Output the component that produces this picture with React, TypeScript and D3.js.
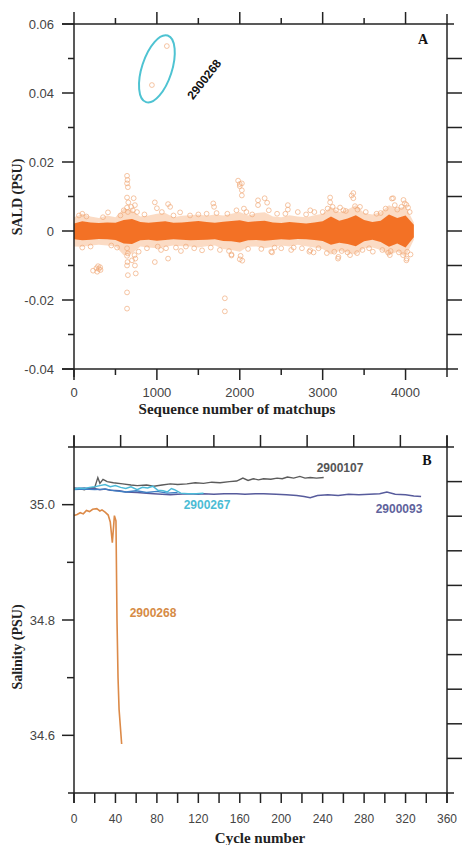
import React from "react";
import * as d3 from "d3";

// ---------- Panel A data ----------
const bandSeq = [0,100,200,300,400,500,600,700,800,900,1000,1100,1200,1300,1400,1500,1600,1700,1800,1900,2000,2100,2200,2300,2400,2500,2600,2700,2800,2900,3000,3100,3200,3300,3400,3500,3600,3700,3800,3900,4000,4100];
const coreUpper = [2.2,2.8,2.5,2.3,2.5,2.4,3.2,3.5,2.6,2.4,2.6,2.8,2.4,2.5,2.7,2.9,2.6,2.4,2.7,2.9,3.1,2.6,2.8,3.0,2.5,2.3,2.6,2.4,2.2,2.5,2.8,4.2,3.0,3.6,4.6,3.2,2.6,3.0,4.8,3.8,4.5,1.8];
const coreLower = [-2.4,-2.7,-2.5,-2.3,-2.4,-2.6,-3.6,-3.8,-2.7,-2.5,-2.8,-2.6,-2.4,-2.5,-2.7,-2.6,-2.5,-2.4,-2.9,-3.0,-3.3,-2.7,-2.6,-2.8,-2.6,-2.4,-2.5,-2.3,-2.4,-2.6,-2.9,-4.0,-3.4,-3.8,-4.4,-3.0,-2.5,-3.2,-4.6,-3.6,-4.8,-1.8];
const fringeUpper = [4.0,5.0,4.2,3.8,4.5,4.0,6.5,6.0,4.2,4.5,5.0,5.2,4.0,4.4,4.6,4.8,4.4,4.8,4.5,5.0,5.5,4.5,5.2,5.4,4.2,4.0,4.6,4.2,4.0,4.6,5.0,7.0,5.5,6.2,7.5,5.2,4.8,5.5,7.5,6.5,7.2,2.5];
const fringeLower = [-4.5,-4.6,-4.2,-4.0,-4.2,-4.4,-7.0,-6.5,-4.5,-4.8,-5.0,-4.6,-4.2,-4.4,-4.5,-4.8,-4.4,-4.2,-5.2,-5.5,-6.0,-4.6,-4.5,-5.0,-4.6,-4.2,-4.5,-4.0,-4.4,-4.8,-5.2,-6.8,-5.8,-6.2,-6.8,-5.0,-4.8,-5.5,-7.0,-6.0,-7.5,-2.5];

const outlierSeq = [1120,940,640,645,640,650,640,655,640,650,640,650,640,645,640,650,640,640,720,735,710,730,740,735,745,700,230,270,290,300,315,320,280,410,100,100,60,520,560,975,1000,1010,975,1060,1135,1160,1135,1110,1280,1290,1400,1450,1545,1600,1680,1690,1760,1820,1820,1900,1900,1960,1980,2000,2000,2025,2025,2025,2030,2000,2010,2050,2220,2220,2300,2330,2380,2390,2450,2500,2580,2580,2650,2700,2840,2850,2850,2890,2900,3050,3090,3090,3120,3185,3190,3210,3250,3330,3350,3370,3370,3415,3450,3605,3650,3790,3810,3835,3850,3870,3970,3975,3990,4010,4015,4010,4030,4020,
  150,200,350,450,600,690,760,780,850,880,1050,1200,1230,1350,1500,1650,1720,1850,1870,2080,2100,2150,2260,2350,2420,2550,2620,2750,2800,2950,3000,3060,3140,3160,3230,3280,3300,3390,3420,3480,3520,3560,3700,3720,3760,3820,3900,3920,3950,4050,4060];
const outlierSald = [0.0536,0.0423,0.0160,0.0148,0.0138,0.0127,0.0097,0.0083,0.0068,0.0055,-0.0050,-0.0065,-0.0072,-0.0090,-0.0100,-0.0128,-0.0178,-0.0225,0.0095,0.0075,0.0060,-0.0070,-0.0080,-0.0100,-0.0123,-0.0085,-0.0115,-0.0108,-0.0102,-0.0110,-0.0105,-0.0113,-0.0118,0.0054,0.0050,-0.0048,0.0045,-0.0048,0.0045,0.0083,0.0066,-0.0045,-0.0090,0.0055,0.0078,0.0070,-0.0080,-0.0050,0.0054,-0.0058,0.0045,-0.0050,-0.0056,0.0050,0.0080,0.0070,-0.0055,-0.0195,-0.0233,-0.0068,-0.0071,0.0060,0.0146,0.0136,0.0130,0.0138,0.0118,0.0103,-0.0086,-0.0082,-0.0072,0.0065,0.0089,0.0075,0.0095,0.0082,-0.0060,-0.0062,0.0050,-0.0050,0.0075,0.0062,-0.0048,0.0055,-0.0060,0.0060,-0.0056,-0.0062,0.0055,-0.0064,0.0097,0.0083,0.0070,-0.0080,-0.0075,0.0068,0.0060,-0.0070,0.0103,0.0110,0.0095,-0.0064,0.0070,-0.0060,0.0050,-0.0063,-0.0070,0.0094,0.0095,0.0075,-0.0070,0.0090,0.0080,0.0076,-0.0080,-0.0085,0.0068,-0.0060,
  0.0042,-0.0045,0.0040,-0.0042,0.0060,0.0070,0.0055,-0.0060,0.0048,-0.0050,-0.0055,0.0045,-0.0048,-0.0045,0.0048,-0.0048,0.0052,0.0050,-0.0058,0.0055,-0.0052,0.0048,-0.0052,0.0060,-0.0048,0.0050,-0.0055,-0.0050,0.0048,-0.0050,0.0055,0.0065,-0.0060,0.0060,-0.0058,0.0058,-0.0062,0.0072,0.0062,-0.0055,0.0055,-0.0050,0.0052,-0.0055,0.0065,-0.0058,0.0062,-0.0062,0.0070,0.0055,-0.0068];

const xTicksA = [0,1000,2000,3000,4000];
const yTicksA = [-0.04,-0.02,0,0.02,0.04,0.06];
const yTickLabelsA = ["-0.04","-0.02","0","0.02","0.04","0.06"];

// ---------- Panel B data ----------
const cyc107 = [0,5,10,15,20,23,25,28,32,38,47,55,61,70,77,85,93,100,109,117,125,133,141,150,157,163,168,173,178,183,190,196,201,206,212,218,223,228,234,241];
const sal107 = [35.027,35.028,35.026,35.029,35.030,35.047,35.037,35.044,35.040,35.038,35.036,35.034,35.033,35.034,35.032,35.034,35.036,35.035,35.036,35.038,35.037,35.039,35.038,35.040,35.041,35.046,35.042,35.045,35.043,35.045,35.044,35.046,35.045,35.048,35.046,35.049,35.046,35.047,35.046,35.047];
const cyc093 = [0,5,10,15,20,25,30,35,44,50,61,70,77,85,93,100,110,120,125,135,145,157,165,175,183,195,205,215,222,228,235,245,255,265,275,285,295,302,310,320,328,335];
const sal093 = [35.029,35.028,35.029,35.027,35.028,35.026,35.027,35.025,35.024,35.022,35.021,35.020,35.019,35.018,35.017,35.018,35.019,35.018,35.019,35.018,35.019,35.019,35.018,35.019,35.019,35.018,35.017,35.016,35.014,35.012,35.016,35.017,35.016,35.018,35.017,35.018,35.019,35.022,35.018,35.017,35.015,35.014];
const cycBlue = [0,10,20,30,40,50,60,70,80,90,100];
const salBlue = [35.026,35.027,35.026,35.027,35.024,35.022,35.024,35.021,35.023,35.020,35.021];
const cyc267 = [0,5,10,15,20,25,30,35,40,45,50,55,61,66,71,76,81,86,90,94,97,103,110,118,125];
const sal267 = [35.027,35.029,35.028,35.030,35.031,35.033,35.035,35.031,35.033,35.030,35.028,35.031,35.026,35.030,35.029,35.032,35.025,35.024,35.022,35.028,35.026,35.020,35.019,35.019,35.020];
const cyc268 = [0,3,6,9,12,15,18,22,25,27,30,33,35,37,39,40.5,41.5,42.5,43.5,46];
const sal268 = [34.981,34.983,34.986,34.984,34.990,34.988,34.992,34.993,34.989,34.991,34.987,34.982,34.970,34.934,34.981,34.972,34.80,34.70,34.645,34.585];

const xTicksB = [0,40,80,120,160,200,240,280,320,360];
const yTicksB = [34.6,34.8,35.0];
const yTickLabelsB = ["34.6","34.8","35.0"];

const SANS = "'Liberation Sans', Arial, sans-serif";
const SERIF = "'Liberation Serif', 'Times New Roman', serif";
const AX = "#222";

export default function App() {
  const L = 74, R = 447;
  const xA = d3.scaleLinear().domain([0, 4500]).range([L, R]);
  const yA = d3.scaleLinear().domain([-0.04, 0.06]).range([369, 24]);
  const xB = d3.scaleLinear().domain([0, 360]).range([L, R]);
  const yB = d3.scaleLinear().domain([34.5, 35.1]).range([793, 447]);

  const areaCore = d3.area<number>()
    .x((_, i) => xA(bandSeq[i]))
    .y0((_, i) => yA(coreLower[i] / 1000))
    .y1((_, i) => yA(coreUpper[i] / 1000))
    .curve(d3.curveLinear);
  const areaFringe = d3.area<number>()
    .x((_, i) => xA(bandSeq[i]))
    .y0((_, i) => yA(fringeLower[i] / 1000))
    .y1((_, i) => yA(fringeUpper[i] / 1000))
    .curve(d3.curveLinear);

  const lineB = (cs: number[], ss: number[]) =>
    d3.line<number>().x((_, i) => xB(cs[i])).y((_, i) => yB(ss[i]))(cs) || "";

  const minorXA = d3.range(500, 4500, 1000);
  const minorYA = [-0.03, -0.01, 0.01, 0.03, 0.05];
  const rightYA = d3.range(-0.03, 0.055, 0.01);
  const bottomTicksB = d3.range(0, 361, 20);
  const topTicksB = d3.range(0, 361, 45);
  const minorYB = [34.7, 34.9];
  const rightTicksB = d3.range(1, 10).map(k => 447 + k * 34.6);

  return (
    <svg width={462} height={845} style={{ position: "absolute", left: 0, top: 0, background: "#fff" }}>
      {/* ================= Panel A ================= */}
      <g>
        <path d={areaFringe(bandSeq) || ""} fill="#f6a66c" opacity={0.4} />
        <path d={areaCore(bandSeq) || ""} fill="#f26c1c" opacity={0.95} />
        {outlierSeq.map((s, i) => (
          <circle key={i} cx={xA(s)} cy={yA(outlierSald[i])} r={2.4} fill="none" stroke="#f0a878" strokeWidth={0.9} opacity={0.75} />
        ))}
        <ellipse cx={xA(1000)} cy={yA(0.047)} rx={15} ry={35} fill="none" stroke="#4ec3d2" strokeWidth={2}
          transform={`rotate(18 ${xA(1000)} ${yA(0.047)})`} />
        <text x={205} y={80} transform="rotate(-52 205 80)" textAnchor="middle" dominantBaseline="middle"
          fontFamily={SANS} fontWeight="bold" fontSize={12} fill="#111">2900268</text>
        <text x={423} y={44} fontFamily={SERIF} fontWeight="bold" fontSize={14} fill="#111" textAnchor="middle">A</text>

        <line x1={62} x2={454} y1={24} y2={24} stroke={AX} strokeWidth={1.5} />
        <line x1={62} x2={458} y1={369} y2={369} stroke={AX} strokeWidth={1.5} />
        <line x1={L} x2={L} y1={24} y2={377} stroke={AX} strokeWidth={1.5} />
        <line x1={R} x2={R} y1={14} y2={377} stroke={AX} strokeWidth={1.5} />
        {xTicksA.map(t => (
          <g key={"xa" + t}>
            <line x1={xA(t)} x2={xA(t)} y1={24} y2={12} stroke={AX} strokeWidth={1.5} />
            <line x1={xA(t)} x2={xA(t)} y1={369} y2={380} stroke={AX} strokeWidth={1.5} />
            <text x={xA(t)} y={397} textAnchor="middle" fontFamily={SANS} fontSize={13} fill="#444">{t}</text>
          </g>
        ))}
        {minorXA.map(t => (
          <g key={"mxa" + t}>
            <line x1={xA(t)} x2={xA(t)} y1={24} y2={18} stroke={AX} strokeWidth={1.5} />
            <line x1={xA(t)} x2={xA(t)} y1={369} y2={375} stroke={AX} strokeWidth={1.5} />
          </g>
        ))}
        {yTicksA.map((t, i) => (
          <g key={"ya" + t}>
            <line x1={62} x2={L} y1={yA(t)} y2={yA(t)} stroke={AX} strokeWidth={1.5} />
            <text x={54} y={yA(t)} dy="0.35em" textAnchor="end" fontFamily={SANS} fontSize={13} fill="#444">{yTickLabelsA[i]}</text>
          </g>
        ))}
        {minorYA.map(t => (
          <line key={"mya" + t} x1={68} x2={L} y1={yA(t)} y2={yA(t)} stroke={AX} strokeWidth={1.5} />
        ))}
        {rightYA.map(t => (
          <line key={"rya" + t} x1={R} x2={462} y1={yA(t)} y2={yA(t)} stroke={AX} strokeWidth={1.5} />
        ))}
        <text x={237} y={414} textAnchor="middle" fontFamily={SERIF} fontWeight="bold" fontSize={15} fill="#222">Sequence number of matchups</text>
        <text transform={`translate(19 197) rotate(-90)`} textAnchor="middle" dominantBaseline="middle" fontFamily={SERIF} fontWeight="bold" fontSize={14} fill="#222">SALD (PSU)</text>
      </g>

      {/* ================= Panel B ================= */}
      <g>
        <path d={lineB(cyc107, sal107)} fill="none" stroke="#5c5c5c" strokeWidth={1.4} />
        <path d={lineB(cyc093, sal093)} fill="none" stroke="#575b9c" strokeWidth={1.5} />
        <path d={lineB(cycBlue, salBlue)} fill="none" stroke="#3f7fc4" strokeWidth={1.4} />
        <path d={lineB(cyc267, sal267)} fill="none" stroke="#4cbad8" strokeWidth={1.5} />
        <path d={lineB(cyc268, sal268)} fill="none" stroke="#dc8a48" strokeWidth={1.6} />

        <text x={340} y={472} textAnchor="middle" fontFamily={SANS} fontWeight="bold" fontSize={12} fill="#555">2900107</text>
        <text x={207} y={509} textAnchor="middle" fontFamily={SANS} fontWeight="bold" fontSize={12} fill="#4bbcd4">2900267</text>
        <text x={399} y={513} textAnchor="middle" fontFamily={SANS} fontWeight="bold" fontSize={12} fill="#60629c">2900093</text>
        <text x={153} y={617} textAnchor="middle" fontFamily={SANS} fontWeight="bold" fontSize={12} fill="#d68b45">2900268</text>
        <text x={427} y={465} textAnchor="middle" fontFamily={SERIF} fontWeight="bold" fontSize={14} fill="#111">B</text>

        <line x1={68} x2={454} y1={447} y2={447} stroke={AX} strokeWidth={1.5} />
        <line x1={68} x2={454} y1={793} y2={793} stroke={AX} strokeWidth={1.5} />
        <line x1={L} x2={L} y1={436} y2={803} stroke={AX} strokeWidth={1.5} />
        <line x1={R} x2={R} y1={436} y2={803} stroke={AX} strokeWidth={1.5} />
        {topTicksB.map(t => (
          <line key={"tb" + t} x1={xB(t)} x2={xB(t)} y1={447} y2={435} stroke={AX} strokeWidth={1.5} />
        ))}
        {bottomTicksB.map(t => (
          <line key={"bb" + t} x1={xB(t)} x2={xB(t)} y1={793} y2={803} stroke={AX} strokeWidth={1.5} />
        ))}
        {xTicksB.map(t => (
          <text key={"xb" + t} x={xB(t)} y={823} textAnchor="middle" fontFamily={SANS} fontSize={12} fill="#444">{t}</text>
        ))}
        {yTicksB.map((t, i) => (
          <g key={"yb" + t}>
            <line x1={62} x2={L} y1={yB(t)} y2={yB(t)} stroke={AX} strokeWidth={1.5} />
            <text x={55} y={yB(t)} dy="0.35em" textAnchor="end" fontFamily={SANS} fontSize={13} fill="#444">{yTickLabelsB[i]}</text>
          </g>
        ))}
        {minorYB.map(t => (
          <line key={"myb" + t} x1={67} x2={L} y1={yB(t)} y2={yB(t)} stroke={AX} strokeWidth={1.5} />
        ))}
        {rightTicksB.map(y => (
          <line key={"rb" + y} x1={R} x2={462} y1={y} y2={y} stroke={AX} strokeWidth={1.5} />
        ))}
        <text x={260} y={843} textAnchor="middle" fontFamily={SERIF} fontWeight="bold" fontSize={15} fill="#222">Cycle number</text>
        <text transform={`translate(19 647) rotate(-90)`} textAnchor="middle" dominantBaseline="middle" fontFamily={SERIF} fontWeight="bold" fontSize={14} fill="#222">Salinity (PSU)</text>
      </g>
    </svg>
  );
}
